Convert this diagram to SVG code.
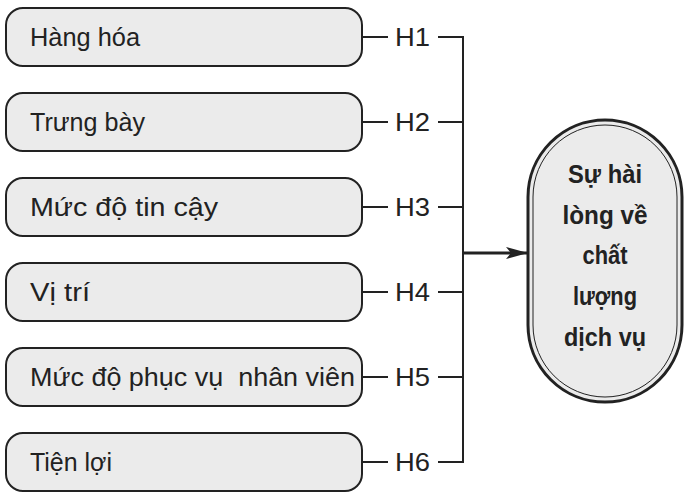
<svg xmlns="http://www.w3.org/2000/svg" width="692" height="498" viewBox="0 0 692 498">
<defs>
<style>
.box{fill:#ebebeb;stroke:#222;stroke-width:2}
.t{font-family:"Liberation Sans",Arial,sans-serif;font-size:26px;fill:#222}
.b{font-family:"Liberation Sans",Arial,sans-serif;font-size:25px;font-weight:bold;fill:#222;text-anchor:middle}
.ln{stroke:#222;stroke-width:2;fill:none}
</style>
<marker id="ah" markerWidth="22" markerHeight="12" refX="21" refY="6" orient="auto" markerUnits="userSpaceOnUse">
<path d="M0,0 L22,6 L0,12 L5,6 Z" fill="#222"/>
</marker>
</defs>
<rect width="692" height="498" fill="#fff"/>
<g id="n1"><rect class="box" x="6" y="8" width="356" height="58" rx="17"/><text class="t" x="30" y="46" textLength="110" lengthAdjust="spacingAndGlyphs">Hàng hóa</text></g>
<g id="n2"><rect class="box" x="6" y="93" width="356" height="58" rx="17"/><text class="t" x="30" y="131" textLength="115" lengthAdjust="spacingAndGlyphs">Trưng bày</text></g>
<g id="n3"><rect class="box" x="6" y="178" width="356" height="58" rx="17"/><text class="t" x="30" y="216" textLength="188" lengthAdjust="spacingAndGlyphs">Mức độ tin cậy</text></g>
<g id="n4"><rect class="box" x="6" y="263" width="356" height="58" rx="17"/><text class="t" x="30" y="301" textLength="60" lengthAdjust="spacingAndGlyphs">Vị trí</text></g>
<g id="n5"><rect class="box" x="6" y="348" width="356" height="58" rx="17"/><text class="t" x="30" y="386" textLength="325" lengthAdjust="spacingAndGlyphs" xml:space="preserve">Mức độ phục vụ  nhân viên</text></g>
<g id="n6"><rect class="box" x="6" y="433" width="356" height="58" rx="17"/><text class="t" x="30" y="471" textLength="82" lengthAdjust="spacingAndGlyphs">Tiện lợi</text></g>
<g id="target">
<rect x="528" y="120" width="154" height="282" rx="77" fill="#ebebeb" stroke="#222" stroke-width="3"/>
<rect x="533" y="125" width="144" height="272" rx="72" fill="none" stroke="#222" stroke-width="1"/>
<text class="b" x="605" y="183" textLength="74" lengthAdjust="spacingAndGlyphs">Sự hài</text>
<text class="b" x="605" y="224" textLength="85" lengthAdjust="spacingAndGlyphs">lòng về</text>
<text class="b" x="605" y="264" textLength="45" lengthAdjust="spacingAndGlyphs">chất</text>
<text class="b" x="605" y="305" textLength="64" lengthAdjust="spacingAndGlyphs">lượng</text>
<text class="b" x="605" y="346" textLength="82" lengthAdjust="spacingAndGlyphs">dịch vụ</text>
</g>
<g id="connectors">
<path class="ln" d="M362,37H388M438,37H463M362,122H388M438,122H463M362,207H388M438,207H463M362,292H388M438,292H463M362,377H388M438,377H463M362,462H388M438,462H463M463,36V463"/>
<line x1="463" y1="253" x2="527" y2="253" stroke="#222" stroke-width="3" marker-end="url(#ah)"/>
<g class="t">
<text x="395" y="46" textLength="35" lengthAdjust="spacingAndGlyphs">H1</text>
<text x="395" y="131" textLength="35" lengthAdjust="spacingAndGlyphs">H2</text>
<text x="395" y="216" textLength="35" lengthAdjust="spacingAndGlyphs">H3</text>
<text x="395" y="301" textLength="35" lengthAdjust="spacingAndGlyphs">H4</text>
<text x="395" y="386" textLength="35" lengthAdjust="spacingAndGlyphs">H5</text>
<text x="395" y="471" textLength="35" lengthAdjust="spacingAndGlyphs">H6</text>
</g>
</g>
</svg>
